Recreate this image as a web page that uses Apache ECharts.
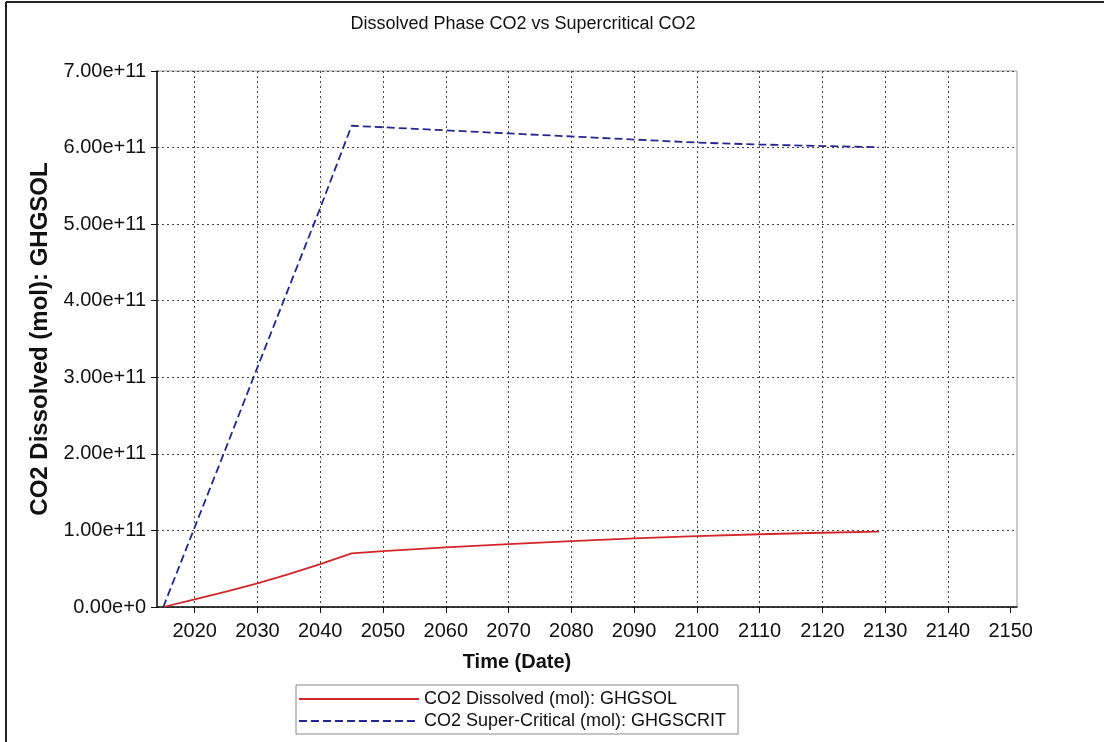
<!DOCTYPE html>
<html>
<head>
<meta charset="utf-8">
<script src="https://cdn.jsdelivr.net/npm/echarts@6/dist/echarts.min.js"></script>
<style>
html,body{margin:0;padding:0;background:#fff;}
#chart{width:1108px;height:742px;}
</style>
</head>
<body>
<div id="chart"></div>
<script>
// ---- data ----
const titleText = 'Dissolved Phase CO2 vs Supercritical CO2';
const xAxisTitle = 'Time (Date)';
const yAxisTitle = 'CO2 Dissolved (mol): GHGSOL';
const seriesNames = ['CO2 Dissolved (mol): GHGSOL', 'CO2 Super-Critical (mol): GHGSCRIT'];
const years = [2015, 2020, 2025, 2030, 2035, 2040, 2045, 2050, 2060, 2070, 2080, 2090, 2100, 2110, 2120, 2129];
const dissolved = [0, 1.0e10, 2.0e10, 3.1e10, 4.3e10, 5.6e10, 7.0e10, 7.3e10, 7.8e10, 8.2e10, 8.6e10, 8.95e10, 9.25e10, 9.5e10, 9.7e10, 9.85e10];
const supercritical = [0, 1.04e11, 2.08e11, 3.13e11, 4.17e11, 5.21e11, 6.285e11, 6.265e11, 6.225e11, 6.185e11, 6.145e11, 6.105e11, 6.065e11, 6.04e11, 6.02e11, 6.005e11];
const xTickValues = [2020, 2030, 2040, 2050, 2060, 2070, 2080, 2090, 2100, 2110, 2120, 2130, 2140, 2150];
const xGridValues = [2020, 2030, 2040, 2050, 2060, 2070, 2080, 2090, 2100, 2110, 2120, 2130, 2140];

function fmtY(v) {
  if (v === 0) return '0.00e+0';
  const e = Math.floor(Math.log10(Math.abs(v)) + 1e-9);
  const m = v / Math.pow(10, e);
  return m.toFixed(2) + 'e+' + e;
}

const chart = echarts.init(document.getElementById('chart'), null, {renderer: 'canvas'});
const font = 'Arial, "Liberation Sans", sans-serif';
const gridLine = {show: true, lineStyle: {color: '#444', type: [2, 3], width: 1}};
chart.setOption({
  backgroundColor: '#fff',
  animation: false,
  textStyle: {fontFamily: font},
  title: {
    text: titleText,
    left: 518, top: 10,
    textAlign: 'center',
    textStyle: {fontSize: 18, fontWeight: 'normal', color: '#111', fontFamily: font}
  },
  graphic: [
    {type: 'line', shape: {x1: 6, y1: 2, x2: 6, y2: 742}, style: {stroke: '#222', lineWidth: 2}},
    {type: 'line', shape: {x1: 6, y1: 2, x2: 1104, y2: 2}, style: {stroke: '#222', lineWidth: 2}}
  ],
  grid: {left: 157, right: 91, top: 71, bottom: 135, show: true, borderColor: '#999', borderWidth: 1, backgroundColor: 'transparent'},
  legend: {
    orient: 'vertical',
    left: 296, top: 685,
    itemWidth: 120, itemHeight: 14, itemGap: 4,
    padding: [5, 12, 4, 2],
    borderColor: '#888', borderWidth: 1,
    itemStyle: {opacity: 0},
    textStyle: {fontSize: 18, color: '#111', fontFamily: font},
    data: seriesNames
  },
  xAxis: [{
    type: 'value', min: 2014, max: 2151,
    name: xAxisTitle, nameLocation: 'middle', nameGap: 45,
    nameTextStyle: {fontSize: 20, fontWeight: 'bold', color: '#111', padding: [0, 140, 0, 0]},
    axisLine: {show: true, lineStyle: {color: '#111', width: 1.5}},
    axisTick: {show: true, length: 6, customValues: xTickValues, lineStyle: {color: '#111'}},
    axisLabel: {customValues: xTickValues, fontSize: 20, color: '#111', margin: 14, formatter: v => String(v)},
    splitLine: {show: false}
  }, {
    type: 'value', min: 2014, max: 2151, position: 'bottom',
    axisLine: {show: false},
    axisTick: {show: false, customValues: xGridValues},
    axisLabel: {show: false, customValues: xGridValues},
    splitLine: gridLine
  }],
  yAxis: {
    type: 'value', min: 0, max: 7e11, interval: 1e11,
    name: yAxisTitle, nameLocation: 'middle', nameGap: 102,
    nameTextStyle: {fontSize: 24, fontWeight: 'bold', color: '#111'},
    axisLine: {show: true, lineStyle: {color: '#111', width: 1.5}},
    axisTick: {show: true, length: 6, lineStyle: {color: '#111'}},
    axisLabel: {fontSize: 20, color: '#111', margin: 11, formatter: fmtY},
    splitLine: gridLine
  },
  series: [
    {
      name: seriesNames[0], type: 'line', symbol: 'none', xAxisIndex: 0,
      data: years.map((y, i) => [y, dissolved[i]]),
      lineStyle: {color: '#d3262b', width: 1.8},
      itemStyle: {color: '#d3262b'}
    },
    {
      name: seriesNames[1], type: 'line', symbol: 'none', xAxisIndex: 0,
      data: years.map((y, i) => [y, supercritical[i]]),
      lineStyle: {color: '#262690', width: 1.8, type: [8, 4]},
      itemStyle: {color: '#262690'}
    }
  ]
});
</script>
</body>
</html>
